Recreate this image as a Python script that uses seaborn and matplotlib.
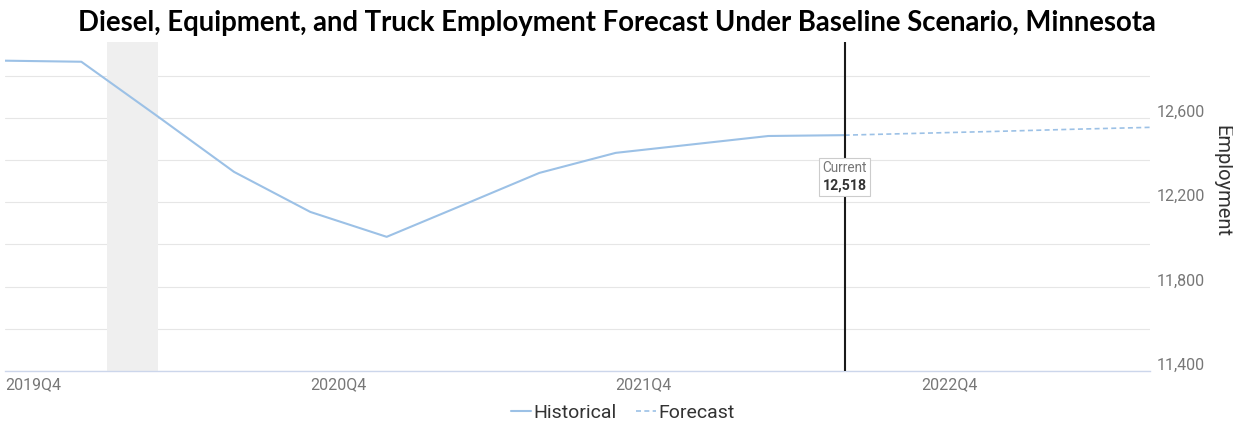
import numpy as np
import pandas as pd
import seaborn as sns
import matplotlib
matplotlib.use("Agg")
import matplotlib.pyplot as plt
from matplotlib.transforms import ScaledTranslation
from matplotlib.offsetbox import TextArea, VPacker, AnnotationBbox
from matplotlib.lines import Line2D

# Quarterly employment, historical through the current quarter, forecast after it
quarters = ["2019Q4", "2020Q1", "2020Q2", "2020Q3", "2020Q4",
            "2021Q1", "2021Q2", "2021Q3", "2021Q4",
            "2022Q1", "2022Q2", "2022Q3", "2022Q4",
            "2023Q1", "2023Q2", "2023Q3"]
historical = [12871, 12866, 12607, 12344, 12154, 12036, 12187, 12339,
              12434, 12474, 12514, 12518]
forecast = [12518, 12527, 12536, 12546, 12555]
current_quarter = "2022Q3"
current_value = 12518
recession_start = ("2020Q1", 1 / 3)   # February 2020
recession_end = ("2020Q2", 0.0)       # April 2020
x_tick_labels = ["2019Q4", "2020Q4", "2021Q4", "2022Q4"]
y_tick_values = [11400, 11800, 12200, 12600]
y_grid_minor = [11600, 12000, 12400, 12800]

title = "Diesel, Equipment, and Truck Employment Forecast Under Baseline Scenario, Minnesota"

sns.set_style("white")
plt.rcParams["font.family"] = ["Roboto", "DejaVu Sans"]

line_color = "#9cc1e6"
W, H = 1233, 434
fig = plt.figure(figsize=(W / 100, H / 100), dpi=100)
ax = fig.add_axes([5 / W, 1 - 371 / H, 1145 / W, (371 - 41.7) / H])

cur_idx = quarters.index(current_quarter)
hist_df = pd.DataFrame({"pos": np.arange(len(historical)), "Employment": historical})
fc_df = pd.DataFrame({"pos": np.arange(cur_idx, cur_idx + len(forecast)), "Employment": forecast})

# recession shading
ax.axvspan(quarters.index(recession_start[0]) + recession_start[1],
           quarters.index(recession_end[0]) + recession_end[1],
           color="#efefef", zorder=1, lw=0)

sns.lineplot(data=hist_df, x="pos", y="Employment", ax=ax, color=line_color,
             lw=1.5, zorder=3)
sns.lineplot(data=fc_df, x="pos", y="Employment", ax=ax, color=line_color,
             lw=1.2, linestyle=(0, (3, 2)), zorder=3)

# current quarter marker
ax.axvline(cur_idx, color="#1a1a1a", lw=1.5, zorder=4)

ax.set_xlim(0, len(quarters) - 1)
ax.set_ylim(11400, 12961)

# axes styling
for s in ["top", "left", "right"]:
    ax.spines[s].set_visible(False)
ax.spines["bottom"].set_color("#ccd6eb")
ax.spines["bottom"].set_linewidth(1.0)
ax.set_axisbelow(True)

ax.set_xticks([quarters.index(q) for q in x_tick_labels])
ax.set_xticklabels(x_tick_labels)
ax.tick_params(axis="x", direction="out", length=3.6, width=0.8, color="#ccd6eb",
               labelsize=11.5, labelcolor="#777777", pad=1)
for lab in ax.get_xticklabels():
    lab.set_horizontalalignment("left")

ax.yaxis.tick_right()
ax.set_yticks(y_tick_values)
ax.set_yticks(y_grid_minor, minor=True)
ax.set_yticklabels([f"{v:,}" for v in y_tick_values])
ax.tick_params(axis="y", which="both", length=0, labelsize=11.5,
               labelcolor="#777777", pad=5)
shift = ScaledTranslation(0, 7 / 100, fig.dpi_scale_trans)
for lab in ax.get_yticklabels():
    lab.set_transform(lab.get_transform() + shift)
ax.grid(axis="y", which="both", color="#e6e6e6", lw=0.8)
ax.grid(axis="x", visible=False)

ax.set_xlabel("")
ax.set_ylabel("")
fig.text(1222 / W, 1 - 181 / H, "Employment", rotation=-90, ha="center",
         va="center", fontsize=14.5, color="#333333")

# current value tooltip
box = VPacker(children=[
    TextArea("Current", textprops=dict(fontsize=9.8, color="#777777")),
    TextArea(f"{current_value:,}", textprops=dict(fontsize=10.2, color="#333333",
                                                   fontweight="bold")),
], align="left", pad=0, sep=2)
ab = AnnotationBbox(box, (cur_idx, current_value), xybox=(0, -30),
                    boxcoords="offset points", box_alignment=(0.5, 0.5),
                    frameon=True, pad=0.25,
                    bboxprops=dict(edgecolor="#cccccc", facecolor="white", lw=0.8))
ab.set_zorder(6)
ax.add_artist(ab)

# title
fig.text(0.5, 1 - 23 / H, title, ha="center", va="center", fontsize=19.8,
         fontweight="bold", family=["Lato", "DejaVu Sans"], color="black")

# legend
handles = [Line2D([], [], color=line_color, lw=1.5),
           Line2D([], [], color=line_color, lw=1.2, linestyle=(0, (3, 2)))]
fig.legend(handles, ["Historical", "Forecast"], loc="center", ncol=2,
           bbox_to_anchor=(623 / W, 1 - 413 / H), frameon=False, fontsize=14,
           handlelength=1.0, handletextpad=0.15, columnspacing=1.0,
           labelcolor="#333333")

fig.savefig("out.png", dpi=100)
